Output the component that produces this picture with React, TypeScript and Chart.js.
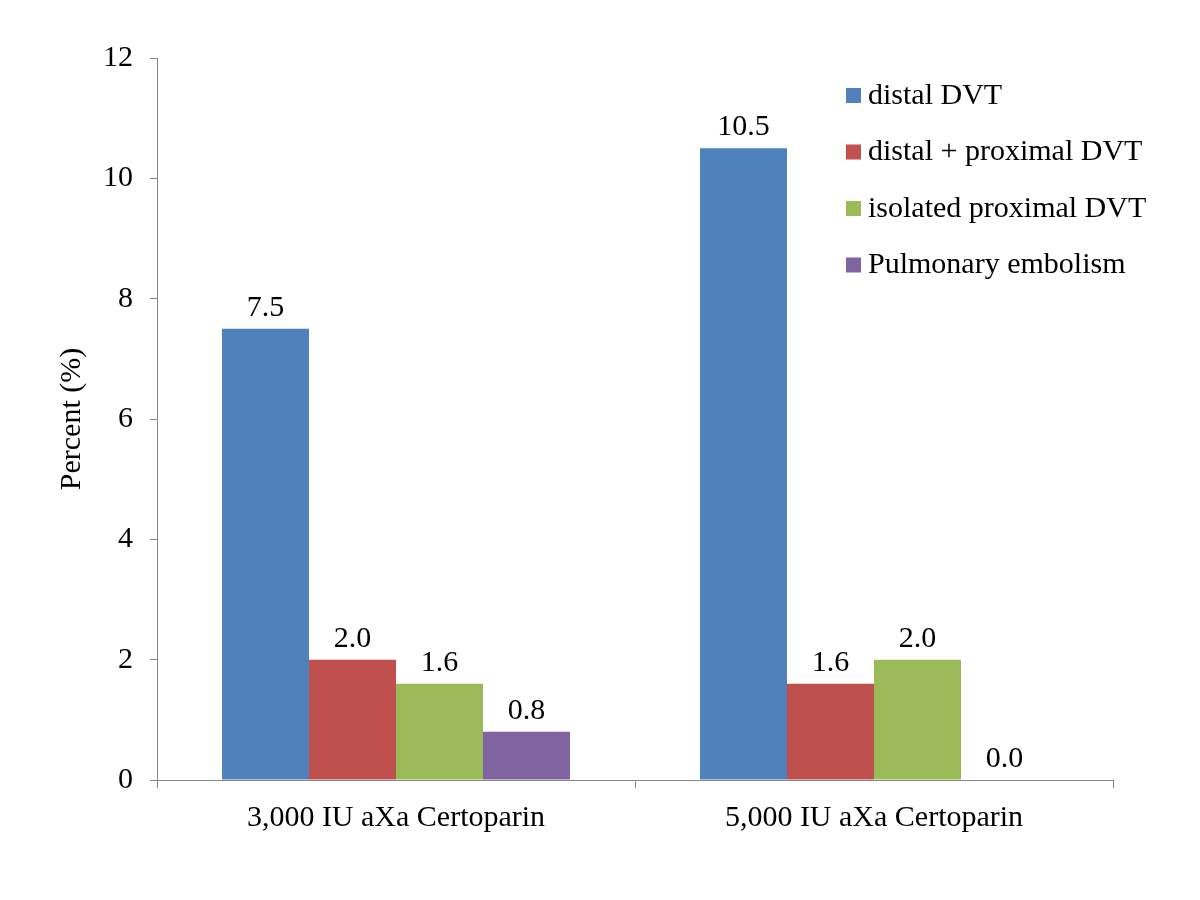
import React, { useEffect, useRef } from "react";
import { Chart, registerables } from "chart.js";

Chart.register(...registerables);

const categories = ["3,000 IU aXa Certoparin", "5,000 IU aXa Certoparin"];
const seriesNames = ["distal DVT", "distal + proximal DVT", "isolated proximal DVT", "Pulmonary embolism"];
const distalDVT = [7.5, 10.5];
const distalProximalDVT = [2.0, 1.6];
const isolatedProximalDVT = [1.6, 2.0];
const pulmonaryEmbolism = [0.8, 0.0];
const seriesColors = ["#4F81BD", "#C0504D", "#9BBB59", "#8064A2"];
const yTicks = [0, 2, 4, 6, 8, 10, 12];

const FONT = "'Liberation Serif', 'Times New Roman', serif";
const FONT_SIZE = 30;
const AXIS_GRAY = "#868686";

const valueLabelPlugin = {
  id: "valueLabels",
  afterDatasetsDraw(chart: any) {
    const ctx = chart.ctx;
    ctx.save();
    ctx.font = `${FONT_SIZE}px ${FONT}`;
    ctx.fillStyle = "#000";
    ctx.textAlign = "center";
    ctx.textBaseline = "alphabetic";
    chart.data.datasets.forEach((ds: any, di: number) => {
      const meta = chart.getDatasetMeta(di);
      meta.data.forEach((bar: any, i: number) => {
        const v = ds.data[i];
        ctx.fillText(Number(v).toFixed(1), bar.x, bar.y - 13);
      });
    });
    ctx.restore();
  },
};

const legendPlugin = {
  id: "customLegend",
  afterDraw(chart: any) {
    const ctx = chart.ctx;
    ctx.save();
    ctx.font = `${FONT_SIZE}px ${FONT}`;
    ctx.textBaseline = "middle";
    ctx.textAlign = "left";
    const x0 = 846;
    const y0 = 95;
    const step = 56.5;
    chart.data.datasets.forEach((ds: any, i: number) => {
      const y = y0 + i * step;
      ctx.fillStyle = ds.backgroundColor;
      ctx.fillRect(x0, y - 7, 15, 15);
      ctx.fillStyle = "#000";
      ctx.fillText(ds.label, x0 + 22, y + 1);
    });
    ctx.restore();
  },
};

export default function App() {
  const ref = useRef<HTMLCanvasElement>(null);
  useEffect(() => {
    document.body.style.margin = "0";
    const seriesData = [distalDVT, distalProximalDVT, isolatedProximalDVT, pulmonaryEmbolism];
    const chart = new Chart(ref.current!, {
      type: "bar",
      data: {
        labels: categories,
        datasets: seriesNames.map((name, i) => ({
          label: name,
          data: seriesData[i],
          backgroundColor: seriesColors[i],
          borderWidth: 0,
          categoryPercentage: 0.728,
          barPercentage: 1.0,
        })),
      },
      options: {
        animation: false,
        responsive: false,
        maintainAspectRatio: false,
        layout: { padding: { top: 58, right: 87, left: 0, bottom: 0 } },
        plugins: {
          legend: { display: false },
          tooltip: { enabled: false },
        },
        scales: {
          x: {
            grid: {
              display: true,
              drawOnChartArea: false,
              drawTicks: true,
              tickLength: 8,
              color: AXIS_GRAY,
              offset: true,
            },
            border: { display: true, color: AXIS_GRAY, width: 1 },
            ticks: {
              color: "#000",
              font: { family: FONT, size: FONT_SIZE },
              padding: 12,
              maxRotation: 0,
            },
            afterFit(scale: any) {
              scale.height = 120;
            },
          },
          y: {
            min: 0,
            max: 12,
            afterBuildTicks(scale: any) {
              scale.ticks = yTicks.map((v) => ({ value: v }));
            },
            grid: {
              display: true,
              drawOnChartArea: false,
              drawTicks: true,
              tickLength: 7,
              color: AXIS_GRAY,
            },
            border: { display: true, color: AXIS_GRAY, width: 1 },
            ticks: {
              color: "#000",
              font: { family: FONT, size: FONT_SIZE },
              padding: 17,
            },
            title: {
              display: true,
              text: "Percent (%)",
              color: "#000",
              font: { family: FONT, size: FONT_SIZE },
              padding: { top: 54, bottom: 0 },
            },
            afterFit(scale: any) {
              scale.width = 157;
            },
          },
        },
      },
      plugins: [valueLabelPlugin, legendPlugin],
    });
    return () => chart.destroy();
  }, []);
  return (
    <div style={{ width: 1200, height: 900, background: "#fff" }}>
      <canvas ref={ref} width={1200} height={900} style={{ display: "block" }} />
    </div>
  );
}
